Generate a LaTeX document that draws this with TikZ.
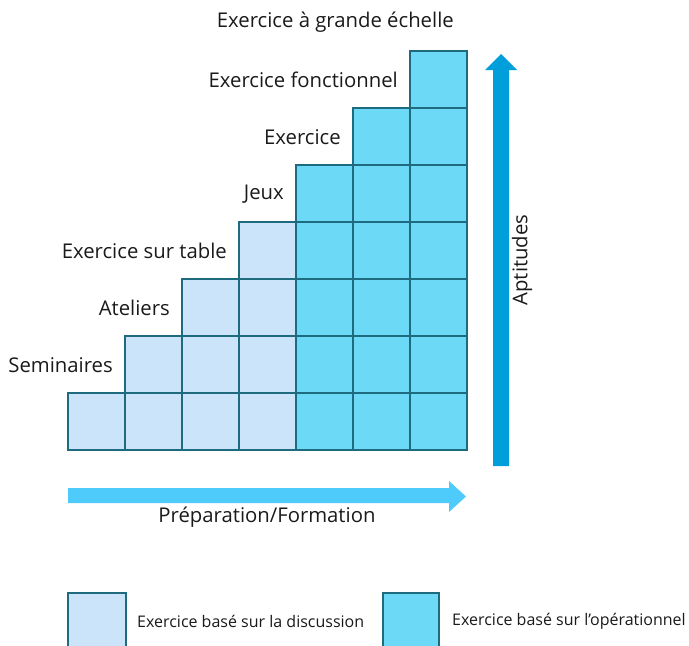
\documentclass[tikz,border=0pt]{standalone}
\usepackage{fontspec}
\setmainfont{Open Sans}
\definecolor{lightcell}{HTML}{CCE4F9}
\definecolor{darkcell}{HTML}{6CDAF7}
\definecolor{cellborder}{HTML}{1E6B80}
\definecolor{uparrow}{HTML}{009FDB}
\definecolor{rightarrow}{HTML}{4FCBFB}
\definecolor{txt}{HTML}{1A1A1A}
\begin{document}
\begin{tikzpicture}[x=1pt,y=-1pt,
  cell/.style={draw=cellborder,line width=1.8pt},
  lab/.style={anchor=east,inner sep=0pt,text=txt,font=\fontsize{20.3}{24}\selectfont},
  leg/.style={anchor=west,inner sep=0pt,text=txt,font=\fontsize{16}{19}\selectfont}]
\useasboundingbox (0,0) rectangle (689,646);
% grid of cells
\foreach \c/\h in {0/1,1/2,2/3,3/4}{
  \foreach \r in {1,...,\h}{
    \path[cell,fill=lightcell] ({68+57*\c},{450-57*\r}) rectangle ++(57,57);
  }
}
\foreach \c/\h in {4/5,5/6,6/7}{
  \foreach \r in {1,...,\h}{
    \path[cell,fill=darkcell] ({68+57*\c},{450-57*\r}) rectangle ++(57,57);
  }
}
% labels
\node[lab] (l1) at (113,365) {Seminaires};
\node[lab] (l2) at (170,308) {Ateliers};
\node[lab] (l3) at (227,251) {Exercice sur table};
\node[lab] (l4) at (284,194) {Jeux};
\node[lab] (l5) at (341,137) {Exercice};
\node[lab] (l6) at (398,80) {Exercice fonctionnel};
\node[lab] (l7) at (454,22) {Exercice à grande échelle};
% vertical arrow
\fill[uparrow] (493,466) -- (493,70) -- (485,70) -- (501,54) -- (517,70) -- (509,70) -- (509,466) -- cycle;
\node[rotate=90,inner sep=0pt,text=txt,font=\fontsize{20.3}{24}\selectfont] (apt) at (522,260) {Aptitudes};
% horizontal arrow
\fill[rightarrow] (68,488) -- (449,488) -- (449,481) -- (466,496.5) -- (449,512) -- (449,503) -- (68,503) -- cycle;
\node[inner sep=0pt,text=txt,font=\fontsize{20.3}{24}\selectfont] (prep) at (267,517) {Préparation/Formation};
% legend
\path[cell,fill=lightcell] (68,593) rectangle (126,660);
\node[leg] (lg1) at (137,621) {Exercice basé sur la discussion};
\path[cell,fill=darkcell] (383,593) rectangle (439,660);
\node[leg] (lg2) at (452,621) {Exercice basé sur l’opérationnel};
\end{tikzpicture}
\end{document}
